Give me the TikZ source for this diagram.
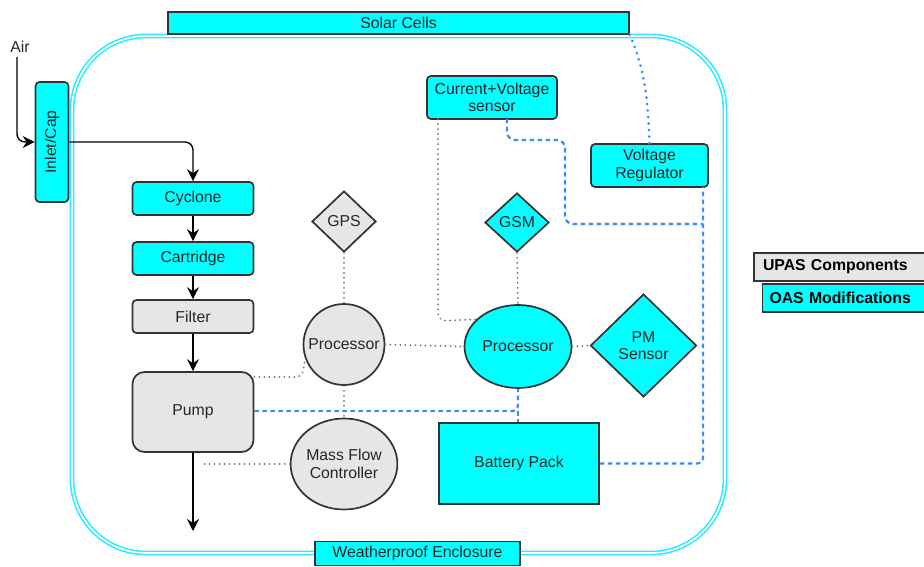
\documentclass[tikz,border=0pt]{standalone}
\usepackage{fontspec}
\setmainfont{Liberation Sans}
\usetikzlibrary{shapes.geometric,arrows.meta}
\definecolor{cy}{HTML}{00FFFF}
\definecolor{gr}{HTML}{E6E6E6}
\definecolor{bd}{HTML}{333333}
\definecolor{bl}{HTML}{3A8CFF}
\definecolor{encl}{HTML}{30EAFF}
\tikzset{
  base/.style={draw=bd, line width=1.7pt, text=black!85, font=\fontsize{15.8}{17.5}\selectfont, inner sep=0pt, align=center},
  cbox/.style={base, fill=cy, rounded corners=4pt},
  gbox/.style={base, fill=gr, rounded corners=4pt},
  flow/.style={line width=1.4pt, draw=black, -{Stealth[length=12pt,width=12pt,inset=4pt]}},
  dotgrey/.style={line width=2pt, draw=black!55, dash pattern=on 0.01pt off 5pt, line cap=round},
  dashblue/.style={line width=2.3pt, draw=bl, dash pattern=on 4.5pt off 3.5pt},
  dotblue/.style={line width=3pt, draw=bl, dash pattern=on 0.01pt off 6.5pt, line cap=round},
}
\begin{document}
\begin{tikzpicture}[x=1pt,y=-1pt]
\useasboundingbox (0,0) rectangle (924,567);
% enclosure
\draw[draw=encl, line width=1.6pt, double=white, double distance=1.6pt, rounded corners=74pt] (72,36) rectangle (725,553);
% boxes
\node[base, fill=cy, rounded corners=0pt, minimum width=461pt, minimum height=22pt] (solar) at (398.5,23) {Solar Cells};
\node[base, fill=cy, rounded corners=0pt, minimum width=205pt, minimum height=24pt] (weather) at (417.5,553.5) {Weatherproof Enclosure};
\node[font=\fontsize{15.8}{17.5}\selectfont, text=black!85, inner sep=0pt] (air) at (20,47) {Air};
\node[cbox, minimum width=120pt, minimum height=33pt, rotate=90] (inlet) at (52,142) {Inlet/Cap};
\node[cbox, minimum width=121pt, minimum height=33pt] (cyclone) at (193,198.5) {Cyclone};
\node[cbox, minimum width=121pt, minimum height=33pt] (cart) at (193,258.5) {Cartridge};
\node[gbox, minimum width=121pt, minimum height=33pt] (filter) at (193,316.5) {Filter};
\node[gbox, rounded corners=12pt, minimum width=121pt, minimum height=80pt] (pump) at (193,412) {Pump};
\node[base, fill=gr, diamond, minimum width=64pt, minimum height=61pt] (gps) at (344,221.5) {GPS};
\node[base, fill=gr, circle, minimum size=81pt] (proc1) at (344,344.5) {Processor};
\node[base, fill=gr, ellipse, minimum width=97pt, minimum height=91pt] (mfc) at (344,464) {Mass Flow\\Controller};
\node[cbox, minimum width=130pt, minimum height=43pt] (cvs) at (492,97.5) {Current+Voltage\\sensor};
\node[cbox, minimum width=117pt, minimum height=43pt] (vreg) at (649.5,165.5) {Voltage\\Regulator};
\node[base, fill=cy, diamond, minimum width=64pt, minimum height=59pt] (gsm) at (517,222.5) {GSM};
\node[base, fill=cy, ellipse, minimum width=107pt, minimum height=83pt] (proc2) at (518,346.5) {Processor};
\node[base, fill=cy, diamond, minimum width=106pt, minimum height=103pt] (pm) at (643.5,345.5) {PM\\Sensor};
\node[base, fill=cy, minimum width=160pt, minimum height=81pt] (batt) at (519,463.5) {Battery Pack};
% legend
\node[base, fill=gr, minimum width=172pt, minimum height=28pt, text width=154pt, align=left, font=\fontsize{15.8}{17.5}\selectfont\bfseries, text=black] (upas) at (840,267) {UPAS Components};
\node[base, fill=cy, minimum width=165pt, minimum height=28pt, text width=151pt, align=left, font=\fontsize{15.8}{17.5}\selectfont\bfseries, text=black] (oas) at (845,298) {OAS Modifications};
% flow arrows
\coordinate (airtop) at (17,57);
\draw[flow, rounded corners=8pt] (airtop) |- (inlet.north |- 0,142);
\draw[flow, rounded corners=8pt] (inlet.south |- 0,142) -| (cyclone.north);
\draw[flow] (cyclone.south) -- (cart.north);
\draw[flow] (cart.south) -- (filter.north);
\draw[flow] (filter.south) -- (pump.north);
\coordinate (outlet) at (193,531);
\draw[flow] (pump.south) -- (outlet);
% grey dotted
\draw[dotgrey] (gps.south) -- (proc1.north);
\draw[dotgrey] (proc1.south) -- (mfc.north);
\draw[dotgrey, rounded corners=6pt] (pump.east |- 0,377) -- (302,377) -- (proc1.200);
\coordinate (mfcend) at (200,464);
\draw[dotgrey] (mfc.west) -- (mfcend);
\draw[dotgrey] (proc1.east) -- (proc2.west);
\draw[dotgrey] (proc2.east) -- (pm.west);
\draw[dotgrey] (gsm.south) -- (proc2.north);
\draw[dotgrey, rounded corners=8pt] (438,119) -- (438,321) -- (proc2.147);
% blue dashed
\draw[dashblue, rounded corners=6pt] (pump.east |- 0,411) -- (518,411) -- (proc2.south);
\draw[dashblue] (518,411) -- (batt.north -| 518,0);
\draw[dashblue, rounded corners=6pt] (batt.east) -- (703,463.5) -- (703,187);
\draw[dashblue, rounded corners=8pt] (507,119) -- (507,140) -- (565,140) -- (565,224) -- (703,224);
% blue dotted
\draw[dotblue] (solar.south east) .. controls (645,70) and (648,100) .. (vreg.north);
\end{tikzpicture}
\end{document}
